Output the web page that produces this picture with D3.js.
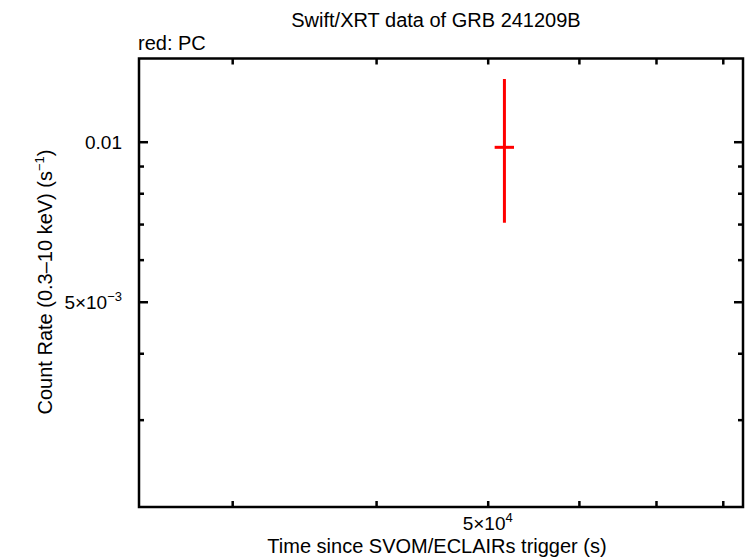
<!DOCTYPE html>
<html>
<head>
<meta charset="utf-8">
<script src="https://cdn.jsdelivr.net/npm/d3@7"></script>
<style>
  body { margin: 0; background: #fff; }
  text { font-family: "Liberation Sans", Arial, sans-serif; fill: #000; }
</style>
</head>
<body>
<svg id="chart" width="746" height="558"></svg>
<script>
// data
var times = [51700];
var timeLo = [50700];
var timeHi = [52700];
var rates = [0.00976];
var rateLo = [0.00704];
var rateHi = [0.01312];

var xTicks = [3e4, 4e4, 5e4, 6e4, 7e4, 8e4];
var xLabelled = [5e4];
var yMajor = [0.01, 0.005];
var yMinor = [0.009, 0.008, 0.007, 0.006, 0.004, 0.003];

var margin = {top: 58.5, right: 3, bottom: 51, left: 139},
    width = 746 - margin.left - margin.right,
    height = 558 - margin.top - margin.bottom;

var svg = d3.select("#chart");
var g = svg.append("g")
    .attr("transform", "translate(" + margin.left + "," + margin.top + ")");

var x = d3.scaleLog().domain([2.49e4, 8.33e4]).range([0, width]);
var y = d3.scaleLog().domain([0.002055, 0.01434]).range([height, 0]);

function supFmt(sel, base, exp) {
  sel.text(base);
  sel.append("tspan").attr("dy", -8).attr("font-size", "13px").text(exp);
}

// x ticks bottom + top
var xAxisB = d3.axisBottom(x).tickValues(xTicks).tickSize(-6).tickFormat("");
var xAxisT = d3.axisTop(x).tickValues(xTicks).tickSize(-6).tickFormat("");
g.append("g").attr("transform", "translate(0," + height + ")").call(xAxisB);
g.append("g").call(xAxisT);

// y ticks left + right, major and minor
g.append("g").call(d3.axisLeft(y).tickValues(yMajor).tickSize(-9).tickFormat(""));
g.append("g").call(d3.axisLeft(y).tickValues(yMinor).tickSize(-5).tickFormat(""));
g.append("g").attr("transform", "translate(" + width + ",0)")
  .call(d3.axisRight(y).tickValues(yMajor).tickSize(-9).tickFormat(""));
g.append("g").attr("transform", "translate(" + width + ",0)")
  .call(d3.axisRight(y).tickValues(yMinor).tickSize(-5).tickFormat(""));

g.selectAll(".domain").remove();
g.selectAll(".tick line").attr("stroke", "#000").attr("stroke-width", 2.5);

// frame
g.append("rect").attr("width", width).attr("height", height)
  .attr("fill", "none").attr("stroke", "#000").attr("stroke-width", 2.5);

// tick labels
g.selectAll(".xlab").data(xLabelled).enter().append("text")
  .attr("x", function(d) { return x(d); })
  .attr("y", height + 23)
  .attr("text-anchor", "middle")
  .attr("font-size", "19px")
  .each(function(d) { supFmt(d3.select(this), "5\u00d710", "4"); });

g.append("text").attr("x", -17).attr("y", y(0.01) + 7)
  .attr("text-anchor", "end").attr("font-size", "19px").text("0.01");
var lab5 = g.append("text").attr("x", -17).attr("y", y(0.005) + 7)
  .attr("text-anchor", "end").attr("font-size", "19px");
supFmt(lab5, "5\u00d710", "\u22123");

// error bars
var pts = times.map(function(t, i) {
  return {t: t, lo: timeLo[i], hi: timeHi[i], r: rates[i], rlo: rateLo[i], rhi: rateHi[i]};
});
var pg = g.append("g").attr("stroke", "#ff0000").attr("stroke-width", 3);
pg.selectAll(".v").data(pts).enter().append("line")
  .attr("x1", function(d) { return x(d.t); }).attr("x2", function(d) { return x(d.t); })
  .attr("y1", function(d) { return y(d.rlo); }).attr("y2", function(d) { return y(d.rhi); });
pg.selectAll(".h").data(pts).enter().append("line")
  .attr("x1", function(d) { return x(d.lo); }).attr("x2", function(d) { return x(d.hi); })
  .attr("y1", function(d) { return y(d.r); }).attr("y2", function(d) { return y(d.r); });

// titles
svg.append("text").attr("x", 436).attr("y", 27).attr("text-anchor", "middle")
  .attr("font-size", "20px").text("Swift/XRT data of GRB 241209B");
svg.append("text").attr("x", 138).attr("y", 50).attr("font-size", "20px").text("red: PC");
svg.append("text").attr("x", 437).attr("y", 553).attr("text-anchor", "middle")
  .attr("font-size", "20px").text("Time since SVOM/ECLAIRs trigger (s)");
var yl = svg.append("text").attr("transform", "translate(52,282) rotate(-90)")
  .attr("text-anchor", "middle").attr("font-size", "20px");
yl.append("tspan").text("Count Rate (0.3\u201310 keV) (s");
yl.append("tspan").attr("dy", -8).attr("font-size", "13px").text("\u22121");
yl.append("tspan").attr("dy", 8).text(")");
</script>
</body>
</html>
